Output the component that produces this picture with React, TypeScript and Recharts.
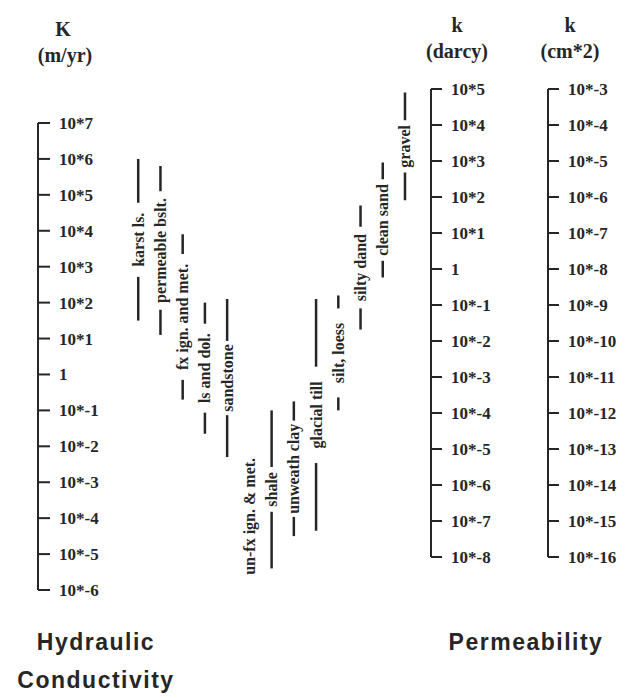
import { ComposedChart, Bar, XAxis, YAxis } from "recharts";

// Rock / sediment types, left to right, with log10 K (m/yr) ranges
const materials = [
  "karst ls.",
  "permeable bslt.",
  "fx ign. and met.",
  "ls and dol.",
  "sandstone",
  "un-fx ign. & met.",
  "shale",
  "unweath clay",
  "glacial till",
  "silt, loess",
  "silty dand",
  "clean sand",
  "gravel",
];
const logKMin = [1.5, 1.1, -0.7, -1.65, -2.3, -5.8, -5.4, -4.5, -4.35, -1.0, 1.25, 2.7, 4.85];
const logKMax = [6.0, 5.8, 3.9, 2.0, 2.1, -2.1, -1.0, -0.75, 2.1, 2.2, 4.7, 5.9, 7.85];

// axis exponents (tick labels are 10*n, 1 for n = 0)
const kExponents = [7, 6, 5, 4, 3, 2, 1, 0, -1, -2, -3, -4, -5, -6];
const darcyExponents = [5, 4, 3, 2, 1, 0, -1, -2, -3, -4, -5, -6, -7, -8];
const cm2Exponents = [-3, -4, -5, -6, -7, -8, -9, -10, -11, -12, -13, -14, -15, -16];

const rows = materials.map((name, i) => ({ name, range: [logKMin[i], logKMax[i]] }));

const W = 637;
const H = 698;
const K_TOP = 123; // pixel row of 10*7
const K_BOTTOM = 590; // pixel row of 10*-6
const decadePx = (K_BOTTOM - K_TOP) / 13;
const BAR_TOP = 86;
const barDomainTop = 7 + (K_TOP - BAR_TOP) / decadePx;

const INK = "#262626";
const serif = "'Liberation Serif', 'DejaVu Serif', serif";
const sans = "'Liberation Sans', Arial, sans-serif";
const LABEL_SIZE = 16;

const fmt = (e: number) => (e === 0 ? "1" : `10*${e}`);
const tickStyle = { fill: INK, fontSize: 17, fontWeight: 700, fontFamily: serif };
const axisStroke = { stroke: INK, strokeWidth: 2 };

// vertical range line with the name written along it (bottom to top)
const RangeMark = (props: any) => {
  const { x, y, width, height, payload } = props;
  if (x == null || y == null) return null;
  const cx = x + width / 2;
  const top = Math.min(y, y + height);
  const bottom = Math.max(y, y + height);
  const mid = (top + bottom) / 2;
  const label: string = payload.name;
  const half = (label.length * LABEL_SIZE * 0.46) / 2 + 4;
  return (
    <g>
      {mid - half > top && (
        <line x1={cx} x2={cx} y1={top} y2={mid - half} stroke={INK} strokeWidth={2.5} />
      )}
      {mid + half < bottom && (
        <line x1={cx} x2={cx} y1={mid + half} y2={bottom} stroke={INK} strokeWidth={2.5} />
      )}
      <text
        transform={`translate(${cx},${mid}) rotate(-90)`}
        textAnchor="middle"
        dominantBaseline="central"
        fill={INK}
        fontSize={LABEL_SIZE}
        fontWeight={700}
        fontFamily={serif}
      >
        {label}
      </text>
    </g>
  );
};

const Caption = ({ text, cx, cy, size, font, spacing = 0 }: any) => (
  <div
    style={{
      position: "absolute",
      left: cx - 120,
      width: 240,
      top: cy - size / 2,
      lineHeight: `${size}px`,
      textAlign: "center",
      fontSize: size,
      fontWeight: 700,
      fontFamily: font,
      letterSpacing: spacing,
      color: INK,
      whiteSpace: "nowrap",
    }}
  >
    {text}
  </div>
);

const layer: any = { position: "absolute", left: 0, top: 0 };

export default function App() {
  return (
    <div style={{ position: "absolute", left: 0, top: 0, width: W, height: H, background: "#fff", overflow: "hidden" }}>
      <Caption text="K" cx={63} cy={29} size={20} font={serif} />
      <Caption text="(m/yr)" cx={65} cy={55} size={20} font={serif} />
      <Caption text="k" cx={457} cy={25} size={20} font={serif} />
      <Caption text="(darcy)" cx={457} cy={51} size={20} font={serif} />
      <Caption text="k" cx={570} cy={25} size={20} font={serif} />
      <Caption text="(cm*2)" cx={570} cy={51} size={20} font={serif} />
      <Caption text="Hydraulic" cx={96} cy={642} size={23} font={sans} spacing={1.5} />
      <Caption text="Conductivity" cx={96} cy={680} size={23} font={sans} spacing={1.5} />
      <Caption text="Permeability" cx={526} cy={642} size={23} font={sans} spacing={1.5} />

      {/* K axis (m/yr) */}
      <div style={layer}>
        <ComposedChart width={W} height={H} data={rows} margin={{ top: K_TOP, bottom: H - K_BOTTOM, left: 38, right: 10 }}>
          <XAxis dataKey="name" hide />
          <YAxis
            type="number"
            domain={[-6, 7]}
            allowDataOverflow
            ticks={kExponents}
            interval={0}
            mirror
            tickFormatter={fmt}
            tickSize={12}
            tickMargin={9}
            tick={tickStyle}
            axisLine={axisStroke}
            tickLine={axisStroke}
          />
        </ComposedChart>
      </div>

      {/* darcy (inner) and cm*2 (outer) axes */}
      <div style={layer}>
        <ComposedChart width={W} height={H} data={rows} margin={{ top: 89, bottom: H - 557, left: 10, right: 0 }}>
          <XAxis dataKey="name" hide />
          <YAxis
            yAxisId="a"
            orientation="right"
            width={117}
            type="number"
            domain={[-8, 5]}
            allowDataOverflow
            ticks={darcyExponents}
            interval={0}
            tickFormatter={fmt}
            tickSize={11}
            tickMargin={9}
            tick={tickStyle}
            axisLine={axisStroke}
            tickLine={axisStroke}
          />
          <YAxis
            yAxisId="b"
            orientation="right"
            width={89}
            type="number"
            domain={[-16, -3]}
            allowDataOverflow
            ticks={cm2Exponents}
            interval={0}
            tickFormatter={fmt}
            tickSize={11}
            tickMargin={9}
            tick={tickStyle}
            axisLine={axisStroke}
            tickLine={axisStroke}
          />
        </ComposedChart>
      </div>

      {/* material ranges */}
      <div style={layer}>
        <ComposedChart
          width={W}
          height={H}
          data={rows}
          margin={{ top: BAR_TOP, bottom: H - K_BOTTOM, left: 127, right: W - 416 }}
        >
          <XAxis dataKey="name" hide />
          <YAxis hide type="number" domain={[-6, barDomainTop]} allowDataOverflow />
          <Bar dataKey="range" isAnimationActive={false} shape={<RangeMark />} />
        </ComposedChart>
      </div>
    </div>
  );
}
